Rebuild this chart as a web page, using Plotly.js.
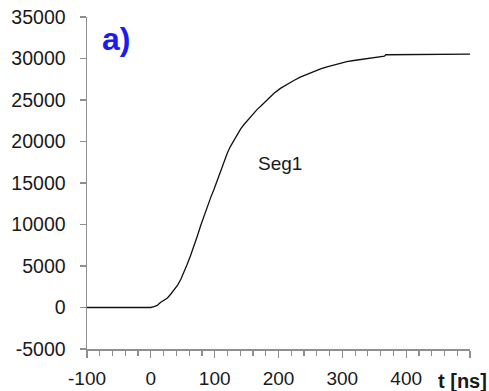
<!DOCTYPE html>
<html>
<head>
<meta charset="utf-8">
<script src="https://cdn.plot.ly/plotly-3.0.1.min.js"></script>
<style>
  html, body { margin: 0; padding: 0; background: #fff; }
  #chart { width: 489px; height: 391px; }
</style>
</head>
<body>
<div id="chart"></div>
<script>
// Seg1 signal versus time (ns)
const timeNs = [-100, 0, 5, 10, 15, 20, 26, 31, 36, 42, 47, 52, 57, 62, 68, 73, 78, 83, 88, 94,
  99, 104, 109, 114, 120, 125, 130, 135, 141, 146, 151, 156, 162, 167, 172, 182, 193, 203, 213,
  224, 234, 245, 255, 266, 276, 287, 297, 307, 318, 328, 339, 349, 360, 366, 368, 490, 492, 500];
const seg1 = [0, 0, 100, 250, 600, 850, 1150, 1600, 2100, 2700, 3400, 4250, 5200, 6200, 7400, 8650,
  9850, 11000, 12150, 13300, 14250, 15350, 16450, 17550, 18650, 19450, 20150, 20800, 21550, 22050,
  22500, 22950, 23450, 23900, 24250, 25050, 25800, 26400, 26900, 27350, 27750, 28100, 28450, 28750,
  29000, 29250, 29450, 29620, 29760, 29880, 30000, 30120, 30230, 30290, 30450, 30450, 30520, 30520];

const xTickVals = [-100, 0, 100, 200, 300, 400, 500];
const xTickText = ['-100', '0', '100', '200', '300', '400', ''];
const yTickVals = [-5000, 0, 5000, 10000, 15000, 20000, 25000, 30000, 35000];

const panelLabel = 'a)';
const seriesLabel = 'Seg1';
const xLabel = 't [ns]';

const axisGrey = '#8f8f8f';
const textDark = '#1a1a1a';

const trace = {
  x: timeNs,
  y: seg1,
  type: 'scatter',
  mode: 'lines',
  line: { color: '#111111', width: 1.3 },
  hoverinfo: 'skip'
};

const layout = {
  width: 489,
  height: 391,
  margin: { l: 87, r: 19, t: 17, b: 42 },
  paper_bgcolor: '#ffffff',
  plot_bgcolor: '#ffffff',
  showlegend: false,
  font: { family: 'Liberation Sans, Arial, sans-serif', color: textDark, size: 19 },
  xaxis: {
    range: [-100, 500],
    tickmode: 'array',
    tickvals: xTickVals,
    ticktext: xTickText,
    ticks: 'outside',
    ticklen: 7,
    tickwidth: 1.3,
    tickcolor: axisGrey,
    ticklabelstandoff: 5,
    minor: { tickmode: 'linear', tick0: 0, dtick: 20, ticks: 'outside', ticklen: 5, tickwidth: 1.2, tickcolor: axisGrey },
    showline: true,
    linecolor: axisGrey,
    linewidth: 1.5,
    showgrid: false,
    zeroline: false,
    tickfont: { size: 19, color: textDark }
  },
  yaxis: {
    range: [-5000, 35000],
    tickmode: 'array',
    tickvals: yTickVals,
    ticktext: yTickVals.map(String),
    ticks: 'outside',
    ticklen: 6,
    tickwidth: 1.3,
    tickcolor: axisGrey,
    ticklabelstandoff: 10,
    showline: true,
    linecolor: axisGrey,
    linewidth: 1.5,
    showgrid: false,
    zeroline: false,
    tickfont: { size: 19.5, color: textDark }
  },
  annotations: [
    {
      text: '<b>' + panelLabel + '</b>',
      xref: 'paper', yref: 'paper',
      x: 0.034, y: 0.935,
      xanchor: 'left', yanchor: 'middle',
      showarrow: false,
      font: { size: 32, color: '#1c1cf0', family: 'Liberation Sans, Arial, sans-serif' }
    },
    {
      text: seriesLabel,
      xref: 'x', yref: 'y',
      x: 202, y: 17300,
      xanchor: 'center', yanchor: 'middle',
      showarrow: false,
      font: { size: 19, color: textDark }
    },
    {
      text: '<b>' + xLabel + '</b>',
      xref: 'paper', yref: 'paper',
      x: 0.912, y: -0.095,
      xanchor: 'left', yanchor: 'middle',
      showarrow: false,
      font: { size: 20, color: textDark }
    }
  ]
};

Plotly.newPlot('chart', [trace], layout, { displayModeBar: false, staticPlot: true });
</script>
</body>
</html>
